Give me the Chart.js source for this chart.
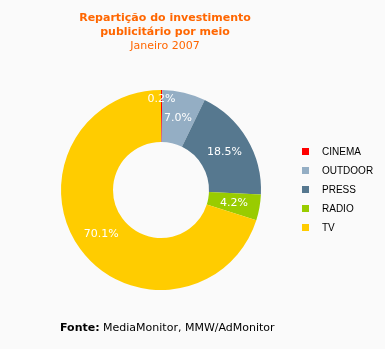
<!DOCTYPE html>
<html>
<head>
<meta charset="utf-8">
<script src="https://cdn.jsdelivr.net/npm/chart.js@4.4.0/dist/chart.umd.min.js"></script>
<style>
  html, body { margin: 0; padding: 0; background: #fafafa; }
  #wrap { position: relative; width: 385px; height: 349px; overflow: hidden; font-family: "DejaVu Sans", Verdana, sans-serif; }
  #chart { position: absolute; left: 0; top: 0; }
  .title { position: absolute; left: 0; width: 330px; text-align: center; color: #ff6600; font-size: 11px; line-height: 14px; }
  .title b { font-weight: bold; }
  #legend { position: absolute; left: 302px; top: 145px; font-family: "Liberation Sans", Arial, sans-serif; font-size: 10px; color: #000; }
  #legend div { height: 19px; line-height: 14px; position: relative; padding-left: 20px; }
  #legend span { position: absolute; left: 0; top: 3px; width: 7px; height: 7px; }
  #source { position: absolute; left: 60px; top: 321px; font-size: 11px; color: #000; }
</style>
</head>
<body>
<div id="wrap">
  <canvas id="chart" width="385" height="349"></canvas>
  <div class="title" style="top:11px"><b>Repartição do investimento</b></div>
  <div class="title" style="top:25px"><b>publicitário por meio</b></div>
  <div class="title" style="top:39px">Janeiro 2007</div>
  <div id="legend"></div>
  <div id="source"><b>Fonte:</b> MediaMonitor, MMW/AdMonitor</div>
</div>
<script>
// data
const categories = ['CINEMA', 'OUTDOOR', 'PRESS', 'RADIO', 'TV'];
const shares = [0.2, 7.0, 18.5, 4.2, 70.1];
const sliceColors = ['#ff0000', '#94aec4', '#56788f', '#99cc00', '#ffcc00'];

// I build the legend as plain html
const legend = document.getElementById('legend');
categories.forEach((name, i) => {
    const row = document.createElement('div');
    row.innerHTML = '<span style="background:' + sliceColors[i] + '"></span>' + name;
    legend.appendChild(row);
});

// I write the percentage on each slice
const sliceLabels = {
    id: 'sliceLabels',
    afterDatasetsDraw(chart) {
        const ctx = chart.ctx;
        const meta = chart.getDatasetMeta(0);
        ctx.save();
        ctx.fillStyle = '#ffffff';
        ctx.font = '11px "DejaVu Sans", Verdana, sans-serif';
        ctx.textAlign = 'center';
        ctx.textBaseline = 'middle';
        meta.data.forEach((arc, i) => {
            const p = arc.getProps(['x', 'y', 'startAngle', 'endAngle', 'innerRadius', 'outerRadius'], true);
            const mid = (p.startAngle + p.endAngle) / 2;
            let r = (p.innerRadius + p.outerRadius) / 2;
            // tiny slice: push the label outward so it does not collide
            if (shares[i] < 1) r = p.outerRadius - 9;
            const x = p.x + Math.cos(mid) * r;
            const y = p.y + Math.sin(mid) * r;
            ctx.fillText(shares[i].toFixed(1) + '%', x, y);
        });
        ctx.restore();
    }
};

new Chart(document.getElementById('chart'), {
    type: 'doughnut',
    data: {
        labels: categories,
        datasets: [{
            data: shares,
            backgroundColor: sliceColors,
            borderWidth: 0
        }]
    },
    options: {
        responsive: false,
        animation: false,
        cutout: '48%',
        layout: { padding: { left: 61, right: 124, top: 90, bottom: 59 } },
        plugins: {
            legend: { display: false },
            tooltip: { enabled: false }
        }
    },
    plugins: [sliceLabels]
});
</script>
</body>
</html>
